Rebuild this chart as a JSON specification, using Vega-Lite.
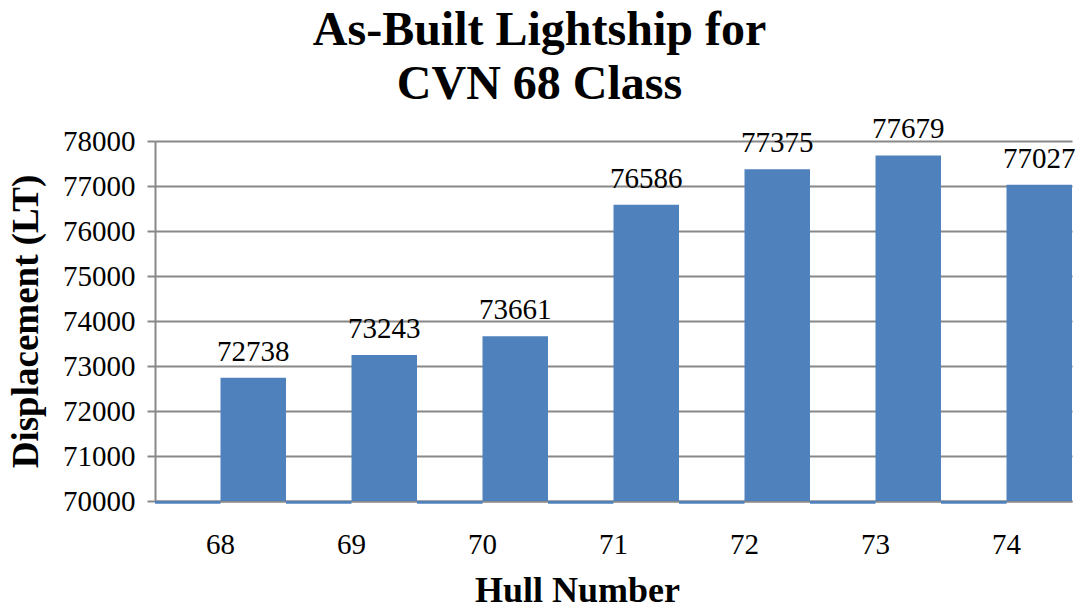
{
  "$schema": "https://vega.github.io/schema/vega-lite/v6.json",
  "width": 917,
  "height": 360,
  "autosize": {"type": "none"},
  "padding": {"left": 155, "top": 141, "right": 7, "bottom": 109},
  "background": "white",
  "title": {
    "text": ["As-Built Lightship for", "CVN 68 Class"],
    "font": "Liberation Serif",
    "fontSize": 48,
    "fontWeight": "bold",
    "color": "black",
    "lineHeight": 54,
    "dx": -74,
    "offset": 6,
    "anchor": "middle"
  },
  "data": {
    "values": [
      {"hull": "68", "series": "a", "value": 69940},
      {"hull": "68", "series": "b", "value": 72738},
      {"hull": "69", "series": "a", "value": 69940},
      {"hull": "69", "series": "b", "value": 73243},
      {"hull": "70", "series": "a", "value": 69940},
      {"hull": "70", "series": "b", "value": 73661},
      {"hull": "71", "series": "a", "value": 69940},
      {"hull": "71", "series": "b", "value": 76586},
      {"hull": "72", "series": "a", "value": 69940},
      {"hull": "72", "series": "b", "value": 77375},
      {"hull": "73", "series": "a", "value": 69940},
      {"hull": "73", "series": "b", "value": 77679},
      {"hull": "74", "series": "a", "value": 69940},
      {"hull": "74", "series": "b", "value": 77027}
    ]
  },
  "encoding": {
    "x": {
      "field": "hull",
      "type": "nominal",
      "scale": {"paddingInner": 0, "paddingOuter": 0},
      "axis": {
        "title": "Hull Number",
        "titleFont": "Liberation Serif",
        "titleFontSize": 36,
        "titleFontWeight": "bold",
        "titleColor": "black",
        "titleX": 422,
        "titleY": 100,
        "titleBaseline": "alphabetic",
        "labelAngle": 0,
        "labelFont": "Liberation Serif",
        "labelFontSize": 29,
        "labelColor": "black",
        "labelPadding": 29,
        "ticks": false,
        "domainColor": "#888888",
        "domainWidth": 2,
        "grid": false
      }
    },
    "xOffset": {"field": "series", "type": "nominal", "scale": {"paddingInner": 0, "paddingOuter": 0}},
    "y": {
      "field": "value",
      "type": "quantitative",
      "scale": {"domain": [70000, 78000], "zero": false, "nice": false},
      "axis": {
        "title": "Displacement (LT)",
        "titleFont": "Liberation Serif",
        "titleFontSize": 37,
        "titleFontWeight": "bold",
        "titleColor": "black",
        "titlePadding": 17,
        "values": [70000, 71000, 72000, 73000, 74000, 75000, 76000, 77000, 78000],
        "format": "d",
        "labelFont": "Liberation Serif",
        "labelFontSize": 29,
        "labelColor": "black",
        "labelPadding": 12,
        "tickSize": 8,
        "tickColor": "#888888",
        "tickWidth": 2,
        "domainColor": "#888888",
        "domainWidth": 2,
        "gridColor": "#888888",
        "gridWidth": 2
      }
    }
  },
  "layer": [
    {
      "mark": {"type": "bar", "color": "#4F81BD", "clip": false},
      "encoding": {"y2": {"datum": 70000}}
    },
    {
      "transform": [{"filter": "datum.series === 'b'"}],
      "mark": {"type": "text", "baseline": "alphabetic", "dy": -17, "font": "Liberation Serif", "fontSize": 29, "color": "black"},
      "encoding": {"text": {"field": "value", "type": "quantitative", "format": "d"}}
    }
  ],
  "config": {"view": {"stroke": null}, "font": "Liberation Serif"}
}
